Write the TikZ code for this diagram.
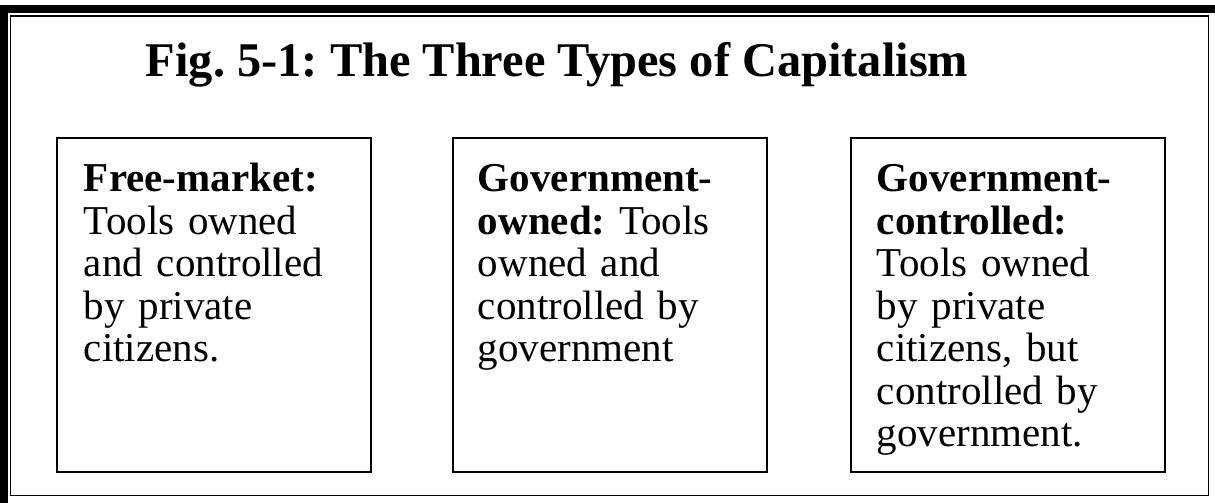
\documentclass[tikz,border=0pt]{standalone}
\usepackage{fontspec}
\setmainfont{Liberation Serif}
\usepackage{tikz}
\usetikzlibrary{positioning}
\frenchspacing

\begin{document}
\begin{tikzpicture}[x=1pt,y=-1pt,
	typebox/.style={draw,line width=2.5pt,minimum width=314pt,minimum height=334pt,inner sep=0pt},
	typetext/.style={text width=300pt,align=left,inner sep=0pt,anchor=base west,font=\fontsize{41}{42.5}\selectfont}]
\useasboundingbox (0,0) rectangle (1215,503);
%frame
\draw[line width=7.5pt] (3.75,503) -- (3.75,9) -- (1215,9);
\draw[line width=1.8pt] (10.5,16) rectangle (1208.5,495.5);
%title
\node[anchor=base,inner sep=0pt,font=\fontsize{48.4}{58}\selectfont\bfseries] (title) at (557,77) {Fig. 5-1: The Three Types of Capitalism};
%boxes
\node[typebox] (free) at (214,305) {};
\node[typebox,right=79.5pt of free] (gowned) {};
\node[typebox,right=81.5pt of gowned] (gcontrol) {};
%texts
\node[typetext] (freetext) at ([xshift=28pt,yshift=-55pt]free.north west) {\textbf{Free-market:}\\ Tools owned\\ and controlled\\ by private\\ citizens.};
\node[typetext] (gownedtext) at ([xshift=26pt,yshift=-55pt]gowned.north west) {\textbf{Government-}\\ \textbf{owned:} Tools\\ owned and\\ controlled by\\ government};
\node[typetext] (gcontroltext) at ([xshift=27pt,yshift=-55pt]gcontrol.north west) {\textbf{Government-}\\ \textbf{controlled:}\\ Tools owned\\ by private\\ citizens, but\\ controlled by\\ government.};
\end{tikzpicture}
\end{document}
